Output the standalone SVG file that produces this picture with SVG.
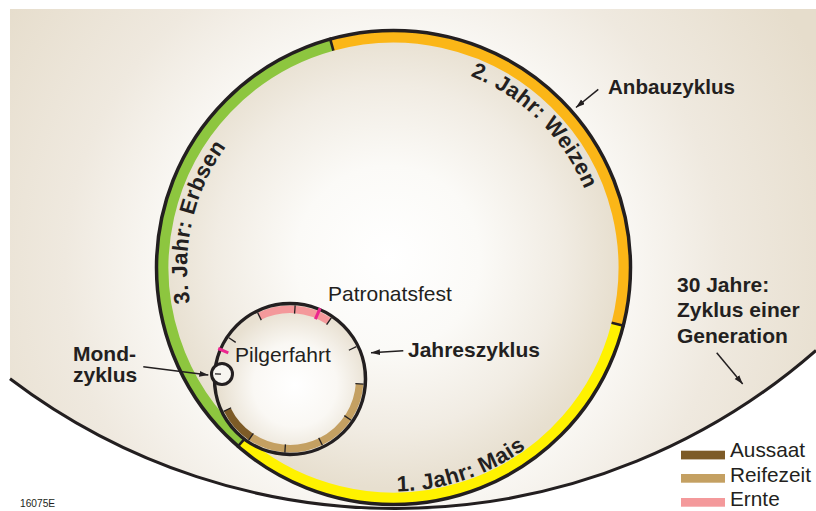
<svg xmlns="http://www.w3.org/2000/svg" width="816" height="511" viewBox="0 0 816 511">
<style>
.lbl{font-family:"Liberation Sans",Arial,sans-serif;fill:#231f20}
.b{font-weight:bold}
.ring{fill:none;stroke-width:11}
.band{fill:none;stroke-width:7.5}
.tick{stroke:#231f20;stroke-width:1.3}
.mag{stroke:#ec268f;stroke-width:3}
.edge{fill:none;stroke:#231f20;stroke-width:3.5}
.join{stroke:#231f20;stroke-width:2.6}
.conn{fill:none;stroke:#231f20;stroke-width:1.5;marker-end:url(#arr)}
</style>
<defs>
<radialGradient id="bgGrad" gradientUnits="userSpaceOnUse" cx="394" cy="268" r="470">
<stop offset="0" stop-color="#ffffff"/>
<stop offset="0.5" stop-color="#f9f7f3"/>
<stop offset="0.7" stop-color="#efe9df"/>
<stop offset="1" stop-color="#e6ddcc"/>
</radialGradient>
<radialGradient id="inGrad" gradientUnits="userSpaceOnUse" cx="388" cy="258" r="230">
<stop offset="0" stop-color="#ffffff"/>
<stop offset="0.4" stop-color="#fbfaf7"/>
<stop offset="0.75" stop-color="#f1ece3"/>
<stop offset="1" stop-color="#e7dfcf"/>
</radialGradient>
<radialGradient id="smGrad" gradientUnits="userSpaceOnUse" cx="295" cy="385" r="76">
<stop offset="0" stop-color="#ffffff"/>
<stop offset="0.55" stop-color="#faf8f4"/>
<stop offset="1" stop-color="#e8e0d1"/>
</radialGradient>
<marker id="arr" markerUnits="userSpaceOnUse" markerWidth="10" markerHeight="7" refX="9" refY="3" orient="auto">
<path d="M0,0 L9,3 L0,6 Z" fill="#231f20"/>
</marker>
<path id="pErbsen" d="M190.1,303 A206.5,206.5 0 0 1 340.1,68"/>
<path id="pWeizen" d="M470.2,75.8 A206.5,206.5 0 0 1 596.9,303.4"/>
<path id="pMais" d="M397,491.5 A224,224 0 0 0 609.9,325.5"/>
</defs>

<g id="generation-cycle">
<path d="M10,9 H816 V350.4 A637.8,637.8 0 0 1 10,378.7 Z" fill="url(#bgGrad)"/>
<path d="M816,350.4 A637.8,637.8 0 0 1 10,378.7" fill="none" stroke="#231f20" stroke-width="3"/>
</g>

<g id="cultivation-cycle">
<circle cx="393.5" cy="267.5" r="230" fill="url(#inGrad)"/>
<path class="ring" stroke="#fff200" d="M616.94,324.04 A230.5,230.5 0 0 1 242.28,441.46"/>
<path class="ring" stroke="#8dc63f" d="M242.28,441.46 A230.5,230.5 0 0 1 331.91,45.39"/>
<path class="ring" stroke="#fbb617" d="M331.91,45.39 A230.5,230.5 0 0 1 616.94,324.04"/>
<circle class="edge" cx="393.5" cy="267.5" r="237"/>
<line class="join" x1="611.6" y1="322.7" x2="624.7" y2="326"/>
<line class="join" x1="245.9" y1="437.3" x2="237" y2="447.5"/>
<line class="join" x1="333.4" y1="50.7" x2="329.8" y2="37.7"/>
<text class="lbl b" font-size="22" letter-spacing="0.4"><textPath href="#pErbsen">3. Jahr: Erbsen</textPath></text>
<text class="lbl b" font-size="22" letter-spacing="0.4"><textPath href="#pWeizen">2. Jahr: Weizen</textPath></text>
<text class="lbl b" font-size="22" letter-spacing="0.4"><textPath href="#pMais">1. Jahr: Mais</textPath></text>
</g>

<g id="year-cycle">
<circle cx="290" cy="379" r="75.5" fill="url(#smGrad)"/>
<path class="band" stroke="#f4999b" d="M259.42,316.31 A69.75,69.75 0 0 1 329,321.18"/>
<path class="band" stroke="#c4a062" d="M359.58,383.87 A69.75,69.75 0 0 1 251,436.82"/>
<path class="band" stroke="#7d5b27" d="M251,436.82 A69.75,69.75 0 0 1 227.31,409.58"/>
<circle class="edge" cx="290" cy="379" r="75.5"/>
</g>

<g id="moon-cycle">
<circle cx="222" cy="374" r="10.5" fill="#f7f5f0" stroke="#231f20" stroke-width="3"/>
</g>

<g id="year-marks">
<line class="tick" x1="355.34" y1="383.57" x2="363.62" y2="384.15"/>
<line class="tick" x1="344.3" y1="415.63" x2="351.18" y2="420.27"/>
<line class="tick" x1="318.72" y1="437.87" x2="322.35" y2="445.33"/>
<line class="tick" x1="285.43" y1="444.34" x2="284.85" y2="452.62"/>
<line class="tick" x1="253.37" y1="433.3" x2="248.73" y2="440.18"/>
<line class="tick" x1="231.13" y1="407.72" x2="223.67" y2="411.35"/>
<line class="tick" x1="221" y1="374.2" x2="215" y2="373.8"/>
<line class="tick" x1="235.7" y1="342.37" x2="228.82" y2="337.73"/>
<line class="tick" x1="261.28" y1="320.13" x2="257.65" y2="312.67"/>
<line class="tick" x1="294.57" y1="313.66" x2="295.15" y2="305.38"/>
<line class="tick" x1="326.63" y1="324.7" x2="331.27" y2="317.82"/>
<line class="tick" x1="348.87" y1="350.28" x2="356.33" y2="346.65"/>
<line class="mag" x1="315.4" y1="319.2" x2="320.1" y2="308.1"/>
<line class="mag" x1="228.3" y1="352.8" x2="218.2" y2="348.5"/>
</g>

<g id="labels">
<text class="lbl b" font-size="20.6" x="608" y="93.5">Anbauzyklus</text>
<text class="lbl b" font-size="21" x="408" y="357">Jahreszyklus</text>
<text class="lbl" font-size="21" x="328" y="300.7">Patronatsfest</text>
<text class="lbl" font-size="21" x="235" y="361.7">Pilgerfahrt</text>
<text class="lbl b" font-size="21" x="73" y="360.7">Mond-</text>
<text class="lbl b" font-size="21" x="73" y="381.7">zyklus</text>
<text class="lbl b" font-size="21" x="677" y="291.7">30 Jahre:</text>
<text class="lbl b" font-size="21" x="677" y="317.3">Zyklus einer</text>
<text class="lbl b" font-size="21" x="677" y="342.7">Generation</text>
<text class="lbl" font-size="10.2" x="20" y="506.5">16075E</text>
</g>

<g id="connectors">
<line class="conn" x1="598.3" y1="89.3" x2="576" y2="107.5"/>
<line class="conn" x1="403.3" y1="350.7" x2="371" y2="352.7"/>
<line class="conn" x1="143.3" y1="366.7" x2="208.3" y2="375"/>
<line class="conn" x1="716.7" y1="352.7" x2="742.7" y2="384"/>
</g>

<g id="legend">
<rect x="681" y="450.7" width="44" height="8.7" fill="#7d5b27"/>
<rect x="681" y="474" width="44" height="8.7" fill="#c4a062"/>
<rect x="681" y="498" width="44" height="8.7" fill="#f4999b"/>
<text class="lbl" font-size="20.8" x="730" y="457">Aussaat</text>
<text class="lbl" font-size="20.8" x="730" y="481.5">Reifezeit</text>
<text class="lbl" font-size="20.8" x="730" y="506">Ernte</text>
</g>
</svg>
